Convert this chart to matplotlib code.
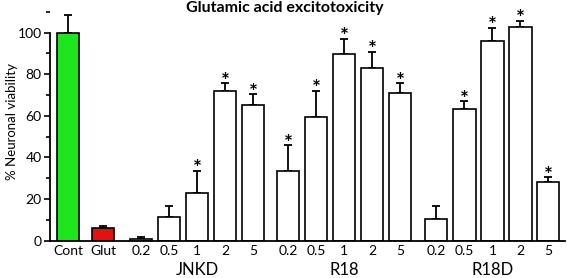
import matplotlib
matplotlib.use("Agg")
import matplotlib.pyplot as plt
from matplotlib.ticker import MultipleLocator

plt.rcParams['font.family'] = ['Lato', 'DejaVu Sans']

tick_labels = ["Cont", "Glut",
               "0.2", "0.5", "1", "2", "5",
               "0.2", "0.5", "1", "2", "5",
               "0.2", "0.5", "1", "2", "5"]
values = [100.0, 6.0,
          0.8, 11.5, 23.0, 72.0, 65.0,
          33.7, 59.3, 89.8, 83.2, 71.2,
          10.4, 63.2, 96.0, 102.9, 28.2]
errors = [8.7, 1.1,
          1.2, 5.2, 10.7, 3.7, 5.5,
          12.2, 12.8, 7.3, 7.7, 4.6,
          6.3, 3.8, 6.4, 2.9, 2.4]
significant = [False, False,
               False, False, True, True, True,
               True, True, True, True, True,
               False, True, True, True, True]
colors = ["#1fe51f", "#e51010"] + ["white"] * 15
positions = [0, 1.25,
             2.62, 3.62, 4.62, 5.62, 6.62,
             7.86, 8.86, 9.86, 10.86, 11.86,
             13.14, 14.16, 15.16, 16.16, 17.14]
groups = ["JNKD", "R18", "R18D"]
group_centers = [4.62, 9.86, 15.16]
title = "Glutamic acid excitotoxicity"
ylabel = "% Neuronal viability"

fig = plt.figure(figsize=(5.67, 2.78), dpi=100)
ax = fig.add_axes([50/567, (278-240.7)/278, (565-50)/567, (240.7-6)/278])

ax.bar(positions, values, width=0.79, color=colors, edgecolor="black",
       linewidth=1.2, zorder=2)
ax.errorbar(positions, values, yerr=[[0]*len(errors), errors], fmt="none",
            ecolor="black", elinewidth=1.3, capsize=3, capthick=1.3, zorder=1)

for x, v, e, s in zip(positions, values, errors, significant):
    if s:
        ax.text(x, v + e - 2.2, "*", ha="center", va="baseline",
                fontsize=15, fontweight="bold")

ax.set_xlim(-0.643, 17.75)
ax.set_ylim(0, 112.8)
ax.spines["top"].set_visible(False)
ax.spines["right"].set_visible(False)
ax.spines["left"].set_bounds(0, 100)
ax.spines["left"].set_linewidth(1.3)
ax.spines["bottom"].set_linewidth(1.3)

ax.set_yticks(range(0, 101, 20))
ax.yaxis.set_minor_locator(MultipleLocator(10))
ax.tick_params(axis="y", which="major", length=4, width=1.2, labelsize=10, pad=2)
ax.tick_params(axis="y", which="minor", length=3, width=1.2)
ax.set_xticks(positions)
ax.set_xticklabels(tick_labels)
ax.tick_params(axis="x", length=0, labelsize=10, pad=3)

for g, c in zip(groups, group_centers):
    ax.text(c, -10.3, g, ha="center", va="top", fontsize=12)

ax.set_ylabel(ylabel, fontsize=9.5, labelpad=4)
ax.yaxis.set_label_coords(-0.063, 0.51)
fig.text(0.502, 0.997, title, ha="center", va="top", fontsize=11.5, fontweight="bold")

fig.savefig("out.png", dpi=100)
